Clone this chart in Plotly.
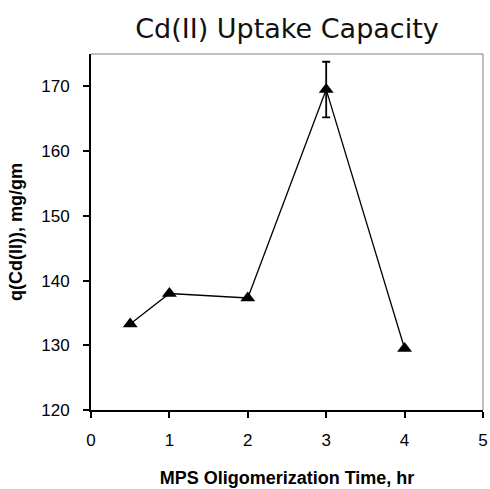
import plotly.graph_objects as go

x_time = [0.5, 1, 2, 3, 4]
q_cd = [133.3, 138.0, 137.3, 169.5, 129.5]
err = [0, 0, 0, 4.3, 0]
x_ticks = [0, 1, 2, 3, 4, 5]
y_ticks = [120, 130, 140, 150, 160, 170]

W, H = 490, 489

fig = go.Figure()
fig.add_trace(go.Scatter(
    x=x_time, y=q_cd, mode="lines+markers",
    line=dict(color="black", width=1.3),
    marker=dict(symbol="triangle-up", size=13, color="black"),
    error_y=dict(type="data", array=err, visible=True, color="black", thickness=1.8, width=4),
    showlegend=False, cliponaxis=False,
))

fig.update_layout(
    width=W, height=H,
    margin=dict(l=91, r=7, t=54, b=79, autoexpand=False),
    paper_bgcolor="white", plot_bgcolor="white",
    title=dict(text="Cd(II) Uptake Capacity", x=0.5, xref="paper", xanchor="center",
               y=1 - 29 / H, yanchor="middle",
               font=dict(family="DejaVu Sans", size=27, color="#111111")),
    xaxis=dict(range=[0, 5], tickvals=x_ticks, showgrid=False, zeroline=False,
               showline=True, linecolor="black", linewidth=2,
               ticks="outside", ticklen=6, tickwidth=2, tickcolor="black",
               tickfont=dict(family="Liberation Sans, Arial", size=17, color="black"),
               ticklabelstandoff=8, automargin=False,
               title=dict(text="<b>MPS Oligomerization Time, hr</b>", standoff=22,
                          font=dict(family="Liberation Sans, Arial", size=18, color="black"))),
    yaxis=dict(range=[120, 175], tickvals=y_ticks, showgrid=False, zeroline=False,
               showline=True, linecolor="black", linewidth=2,
               ticks="outside", ticklen=6, tickwidth=2, tickcolor="black",
               tickfont=dict(family="Liberation Sans, Arial", size=17, color="black"),
               ticklabelstandoff=10, automargin=False,
               title=dict(text="<b>q(Cd(II)), mg/gm</b>", standoff=14,
                          font=dict(family="Liberation Sans, Arial", size=18, color="black"))),
    shapes=[
        dict(type="line", xref="paper", yref="paper", x0=0, x1=1, y0=1, y1=1,
             line=dict(color="#808080", width=1)),
        dict(type="line", xref="paper", yref="paper", x0=1, x1=1, y0=0, y1=1,
             line=dict(color="#808080", width=1)),
    ],
)

fig.write_html(
    "out.html",
    config={"displayModeBar": False},
    post_script="document.body.style.margin='0';document.body.style.overflow='hidden';",
)
